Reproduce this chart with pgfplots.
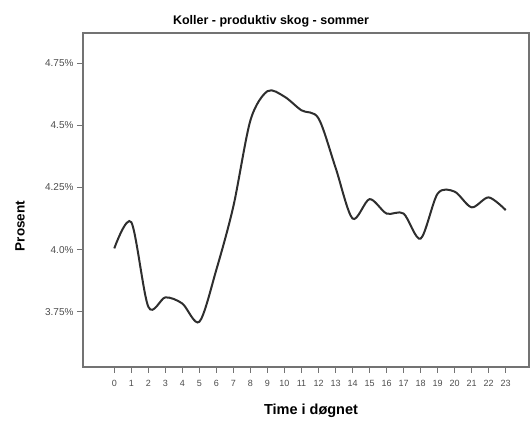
\documentclass[border=0pt]{standalone}
\usepackage{pgfplots}
\pgfplotsset{compat=1.18}
\usepackage{fontspec}
\setmainfont{Liberation Sans}
\definecolor{frame}{gray}{0.45}
\definecolor{ticklab}{gray}{0.3}
\begin{document}
\begin{tikzpicture}[x=1pt,y=1pt]
\path[use as bounding box] (0,0) rectangle (531,422);
\begin{axis}[
  at={(83pt,55pt)}, anchor=south west,
  scale only axis, width=446pt, height=334pt,
  xmin=-1.84, xmax=24.37,
  ymin=3.528, ymax=4.871,
  axis line style={draw=frame, line width=1.2pt},
  xtick={0,1,...,23},
  ytick={3.75,4.0,4.25,4.5,4.75},
  yticklabels={3.75\%,4.0\%,4.25\%,4.5\%,4.75\%},
  tick align=outside, tick pos=left,
  major tick length=6pt,
  tick style={draw=frame, line width=0.8pt},
  /pgf/number format/assume math mode=true,
  xticklabel style={font=\fontsize{9}{10}\selectfont, text=ticklab, yshift=-3.5pt},
  yticklabel style={font=\fontsize{10}{11}\selectfont, text=ticklab},
  clip=false,
]
\addplot[smooth, line width=2pt, color=black!82] coordinates {
(0,4.005) (1,4.11) (2,3.77) (3,3.808) (4,3.783) (5,3.71) (6,3.92) (7,4.175)
(8,4.52) (9,4.637) (10,4.615) (11,4.56) (12,4.528) (13,4.33) (14,4.125)
(15,4.203) (16,4.145) (17,4.145) (18,4.044) (19,4.225) (20,4.233) (21,4.17)
(22,4.21) (23,4.159)
};
\end{axis}
\node[anchor=base, font=\fontsize{12.5}{13}\selectfont\bfseries] at (271,397.7) {Koller - produktiv skog - sommer};
\node[anchor=base, font=\fontsize{14.5}{15}\selectfont\bfseries] at (311,7.7) {Time i døgnet};
\node[anchor=center, rotate=90, font=\fontsize{13.5}{14}\selectfont\bfseries] at (20,196) {Prosent};
\end{tikzpicture}
\end{document}
